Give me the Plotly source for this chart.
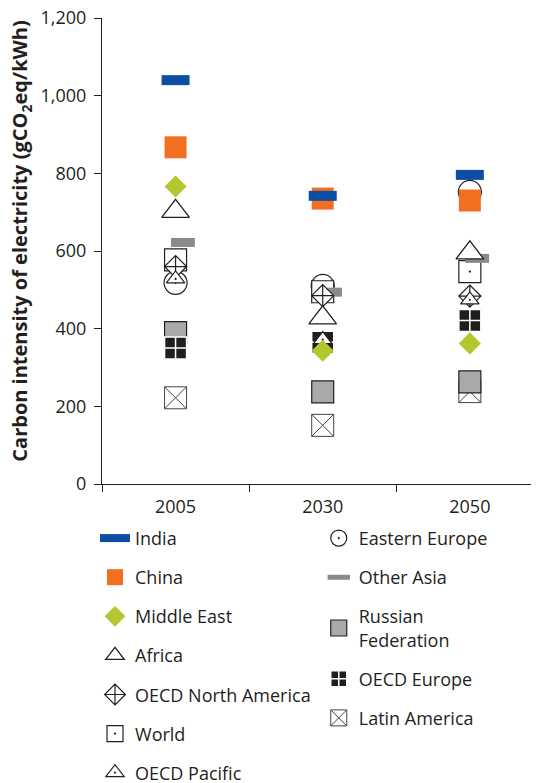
import numpy as np
import plotly.graph_objects as go

# values (gCO2eq/kWh)
years = ["2005", "2030", "2050"]
india = [1040, 742, 796]
china = [867, 735, 730]
middle_east = [766, 343, 362]
africa = [702, 428, 595]
oecd_north_america = [560, 485, 484]
world = [577, 495, 547]
oecd_pacific = [528, 372, 474]
eastern_europe = [518, 510, 752]
other_asia = [622, 494, 581]
russian_federation = [390, 237, 263]
oecd_europe = [350, 365, 421]
latin_america = [222, 151, 238]

INK = "#231f20"
BLUE = "#0b4ea2"
FONT = "Open Sans"

# the page body keeps its default 8px margin, so the figure is 8px smaller
PAGE_PAD = 8
W, H = 539 - PAGE_PAD, 783 - PAGE_PAD

xpos = np.arange(len(years))

fig = go.Figure()


def add_series(name, values, marker, legend, rank, dx=0.0, showlegend=True, label=None):
    fig.add_trace(go.Scatter(
        x=xpos + dx, y=values, mode="markers", name=label or name, marker=marker,
        legend=legend, legendgroup=name, legendrank=rank, showlegend=showlegend,
        hovertemplate=name + ": %{y}<extra></extra>",
    ))


# drawing order (back to front); legend order set by legendrank
add_series("Latin America", latin_america,
           dict(symbol="square-x", size=22, color="white", line=dict(color="#444", width=1)),
           "legend2", 12)
add_series("Russian Federation", russian_federation,
           dict(symbol="square", size=22, color="#a9a9a9", line=dict(color=INK, width=1.2)),
           "legend2", 10, label="Russian<br>Federation")
add_series("OECD Europe", oecd_europe,
           dict(symbol="square-cross", size=22, color="#1e1e1e", line=dict(color="white", width=1.5)),
           "legend2", 11)
add_series("Eastern Europe", eastern_europe,
           dict(symbol="circle-dot", size=23, color="white", line=dict(color=INK, width=1.2)),
           "legend2", 8)
add_series("China", china, dict(symbol="square", size=22, color="#f26f21"), "legend", 2)
add_series("India", india,
           dict(symbol="line-ew-open", size=20, color=BLUE, line=dict(color=BLUE, width=10)),
           "legend", 1, showlegend=False)
add_series("World", world,
           dict(symbol="square-dot", size=22, color="white", line=dict(color=INK, width=1.2)),
           "legend", 6)
add_series("Other Asia", other_asia,
           dict(symbol="line-ew-open", size=17, color="#8a8a8a", line=dict(color="#8a8a8a", width=9)),
           "legend2", 9, dx=0.05)
add_series("OECD North America", oecd_north_america,
           dict(symbol="diamond-cross", size=17, color="white", line=dict(color=INK, width=1.2)),
           "legend", 5)
add_series("OECD Pacific", oecd_pacific,
           dict(symbol="triangle-up-dot", size=16, color="white", line=dict(color=INK, width=1.2)),
           "legend", 7)
add_series("Africa", africa,
           dict(symbol="triangle-up", size=24, color="white", line=dict(color=INK, width=1.3)),
           "legend", 4)
add_series("Middle East", middle_east, dict(symbol="diamond", size=17, color="#b4c72e"), "legend", 3)

# legend entry for India drawn as a wide bar
fig.add_trace(go.Scatter(
    x=[None], y=[None], mode="lines", name="India", line=dict(color=BLUE, width=8),
    legend="legend", legendgroup="India", legendrank=1,
))

legend_style = dict(
    font=dict(family=FONT, size=18, color=INK), bgcolor="rgba(0,0,0,0)",
    tracegroupgap=12.7, yanchor="top", xanchor="left", orientation="v", y=-0.077,
)

fig.update_layout(
    width=W, height=H,
    margin=dict(l=102 - PAGE_PAD, r=0, t=18 - PAGE_PAD, b=299, autoexpand=False),
    plot_bgcolor="white", paper_bgcolor="white",
    font=dict(family=FONT, size=18, color=INK),
    legend=dict(x=-0.016, **legend_style),
    legend2=dict(x=0.496, **legend_style),
    xaxis=dict(
        range=[-0.5, 2.47], tickvals=xpos, ticktext=years, ticks="",
        showline=True, linecolor=INK, linewidth=1, showgrid=False, zeroline=False,
        ticklabelstandoff=6,
        minor=dict(tickvals=[-0.5, 0.5, 1.5], ticks="outside", ticklen=7,
                   tickcolor=INK, tickwidth=1, showgrid=False),
    ),
    yaxis=dict(
        range=[0, 1200], tickvals=[0, 200, 400, 600, 800, 1000, 1200],
        tickformat=",d", ticks="outside", ticklen=7, tickcolor=INK,
        showline=True, linecolor=INK, linewidth=1, showgrid=False, zeroline=False,
        ticklabelstandoff=4, ticklabeloverflow="allow",
    ),
    annotations=[dict(
        text="<b>Carbon intensity of electricity (gCO<sub>2</sub>eq/kWh)</b>",
        xref="paper", yref="paper", x=(21 - 102) / 437, y=0.52,
        textangle=-90, showarrow=False, xanchor="center", yanchor="middle",
        font=dict(family=FONT, size=20, color=INK),
    )],
)

fig.write_html("out.html")
